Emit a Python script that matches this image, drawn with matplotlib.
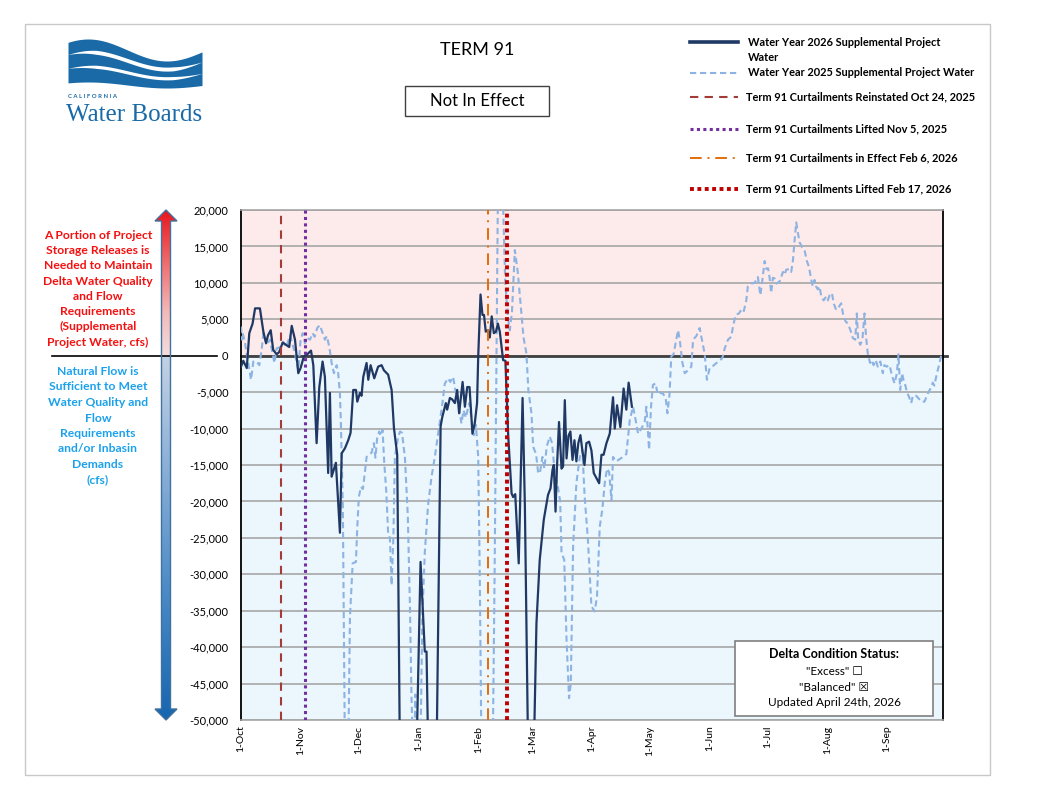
import numpy as np
import matplotlib.pyplot as plt
from matplotlib.colors import LinearSegmentedColormap
from matplotlib.patches import Polygon, Rectangle

plt.rcParams['font.family'] = ['Lato', 'DejaVu Sans']

# x is days since 1-Oct of the water year
month_days = [0, 31, 61, 92, 123, 151, 182, 212, 243, 273, 304, 335]
month_labels = ['1-Oct', '1-Nov', '1-Dec', '1-Jan', '1-Feb', '1-Mar',
                '1-Apr', '1-May', '1-Jun', '1-Jul', '1-Aug', '1-Sep']
y_ticks = list(range(-50000, 20001, 5000))

# Water Year 2026 supplemental project water (cfs), values below -50,000 run off the chart
wy2026_day = [0, 1.2, 3, 4.3, 6, 7.3, 9.8, 11.6, 13, 14, 15.4, 16.7, 18.5, 19.8, 21.6,
              23.3, 25, 26.3, 28, 29.7, 30.9, 32.6, 34.4, 36.3, 37.5, 39.2, 40.6, 42.3,
              43.5, 45.2, 46.1, 47, 49.2, 51.3, 52.2, 53.9, 55.6, 56.8, 58.2, 59.6, 60.3,
              61.7, 62.5, 63.4, 65.1, 66, 67.2, 69.1, 71.1, 72.9, 74.1, 76.3, 78.1, 79.3,
              81, 82.4, 91, 93.1, 95.3, 96.2, 97.1, 101.4, 103.5, 104.3, 106.2, 106.9,
              108.3, 109.5, 110.9, 112.1, 113.1, 114.9, 116.1, 117.3, 118.5, 120, 121.2,
              122.4, 123, 124.2, 125.2, 126, 126.9, 128, 129, 130, 131.1, 132.2, 133.2,
              134.2, 135.1, 135.9, 137.1, 138.5, 140.3, 141.1, 142.2, 144, 146, 147.2,
              148.9, 151.8, 153.2, 154.9, 157, 159.2, 160.5, 161.5, 162.2, 163.1, 163.8,
              164.9, 166.2, 167, 167.9, 168.8, 169.8, 170.8, 171.9, 172.9, 173.9, 174.9,
              176, 177, 178.1, 179.1, 180.5, 181.7, 182.9, 184.3, 185.7, 186.9, 188,
              189.5, 191.2, 192.9, 193.8, 195, 196.7, 198.4, 199.8, 201, 202.7]
wy2026_cfs = [-1500, -700, -1700, 3100, 4400, 6500, 6500, 3300, 1700, 2800, 3500, 800,
              200, 500, 1800, 1500, 1200, 4100, 2200, -2400, -1700, -100, 200, 700, -1300,
              -12000, -4300, -800, -2900, -16100, -5100, -16600, -14700, -24300, -13400,
              -12700, -11600, -10600, -4700, -4700, -6300, -5100, -5500, -2900, -1000,
              -3300, -1300, -3100, -1500, -1300, -2000, -2600, -4700, -9900, -13600,
              -55000, -55000, -28300, -40600, -40600, -55000, -55000, -9700, -8500, -6500,
              -7400, -5800, -6000, -6500, -4700, -7900, -3600, -7000, -4300, -4300, -10700,
              -9300, -6500, -100, 8400, 5600, 5600, 3300, 3500, 2500, 5400, 3100, 3300,
              4400, 3300, 1200, -600, -700, -10700, -18900, -19400, -19000, -28500, -5800,
              -20700, -55000, -55000, -36700, -28000, -22500, -19100, -18200, -15700,
              -15000, -21400, -15500, -9100, -15500, -15200, -6100, -14100, -11000, -10400,
              -14300, -11600, -14500, -12000, -10900, -13000, -15000, -12000, -11800,
              -13000, -16100, -16800, -17500, -13600, -13600, -12000, -10700, -5700,
              -10000, -6800, -9800, -4500, -7400, -3700, -7000]

# Water Year 2025 supplemental project water (cfs)
wy2025_day = [0, 0.5, 0.9, 2.1, 3.8, 5.2, 6.4, 8.1, 9.5, 10.7, 11.6, 13.3, 15, 16.4, 17.3,
              18.5, 20.2, 21.9, 23.5, 25.4, 27.1, 28.3, 29.7, 30.9, 32, 33.2, 34.4, 35.8,
              37.1, 38.2, 39.5, 40.9, 42.3, 43.5, 44.5, 45.8, 47, 48.2, 49.6, 50.4, 51.3,
              51.8, 52.8, 53.4, 53.9, 55.6, 56.5, 57.9, 59.6, 60.3, 61.1, 62.2, 63.2, 64.2,
              65.1, 66.5, 67.7, 68.9, 69.7, 70.6, 71.7, 72.5, 73.4, 74.3, 75.3, 76.3, 77.2,
              78.1, 79, 79.8, 81.5, 82.5, 83.5, 85, 86.5, 87.6, 88.4, 89.3, 89.8, 90.4, 91,
              93, 94, 95.3, 97, 98.8, 100.5, 102.4, 104.2, 105.7, 107.4, 108.5, 110, 111,
              112.1, 113.2, 114.3, 115.4, 116.6, 118.3, 119.5, 120.7, 121.8, 123, 123.8,
              124.7, 130.5, 131.5, 132.5, 133.3, 135.5, 137, 138.5, 139.4, 140.5, 142,
              143.5, 145, 146.5, 148, 149, 150.6, 151.5, 153, 154, 154.9, 156.3, 157.3,
              158.5, 160.1, 161.3, 162.7, 164.3, 165.5, 166.2, 167.6, 168.8, 170.1, 171,
              172.2, 173.9, 175.6, 177, 178.2, 179.9, 181.7, 183.4, 184.6, 186, 187.4,
              188.6, 189.8, 190.9, 192.1, 192.9, 194.6, 196.3, 198, 199.8, 201.6, 203.3,
              204.6, 205.9, 207.6, 209.3, 210.2, 211.6, 212.6, 213.6, 215, 216, 217.1,
              218.8, 220.2, 221.1, 222.2, 223.1, 224.3, 226.6, 227.5, 228.9, 230.1, 231.8,
              233.5, 234.4, 236.1, 237.8, 239, 240.4, 241.6, 243, 244.8, 246.5, 248.2,
              249.6, 250.8, 252.5, 254.2, 255.1, 256.5, 258.2, 259.4, 260.6, 262, 262.8,
              264.6, 266.3, 268, 269.3, 270.3, 271.5, 272.4, 273.3, 274.1, 274.9, 275.8,
              276.7, 277.6, 279.3, 281, 281.8, 282.7, 284.4, 285.3, 286.2, 287, 287.9,
              288.8, 289.6, 290.9, 292.2, 293.4, 294.5, 295.7, 296.5, 297.4, 298.2, 299.1,
              300, 300.9, 302.1, 303.4, 304.3, 305.2, 306.4, 307.3, 308.6, 310, 311.2,
              312.1, 313.5, 314.7, 316, 317.3, 318.5, 319.3, 320, 321.1, 322.2, 323.3,
              324.1, 325, 326.2, 327.2, 328, 329.1, 330.2, 331.5, 332.8, 333.6, 334.8,
              336.3, 337.6, 338.9, 340.1, 340.9, 341.8, 342.8, 343.5, 344.6, 345.2, 346.6,
              347.5, 348.4, 350.1, 351.5, 352.7, 354.4, 356.1, 357.5, 358.7, 359.5, 360.7,
              362.2, 363.5]
wy2025_cfs = [4000, 2200, 3100, 1700, -1000, -3300, -800, -800, -1300, 800, 3100, 1500,
              2200, 300, -1000, 1000, 1200, 1900, 1200, 2800, 1200, -100, -2000, 2200, 3100,
              1700, 2400, 2200, 3100, 2600, 3800, 4200, 3100, 2200, 2700, 1200, -1000, -2400,
              -1300, -2400, -5200, -9300, -20700, -39000, -55000, -55000, -35800, -28500,
              -28300, -23500, -19400, -18000, -18300, -16100, -13900, -13600, -13300,
              -12000, -14000, -11300, -10400, -11000, -10200, -14800, -18500, -24400,
              -25000, -31500, -25000, -13900, -11100, -10400, -10600, -14000, -22000,
              -34400, -46800, -55000, -55000, -46500, -55000, -55000, -36000, -27000,
              -20500, -16600, -13900, -10400, -7000, -3800, -3100, -3600, -2900, -4500,
              -6100, -7300, -9300, -7500, -8500, -6500, -8500, -10900, -9500, -13900,
              -29900, -55000, -55000, -30000, 0, 25000, 25000, 10000, 5000, 3500, 6000,
              14500, 11500, 7000, 2500, 300, -4700, -7900, -12500, -13500, -15900, -16200,
              -13900, -15500, -12500, -11100, -12000, -16100, -18000, -20000, -27100,
              -28000, -39000, -47000, -45000, -26200, -17500, -14000, -12900, -19400,
              -25300, -34400, -35100, -33000, -23500, -21000, -17500, -15500, -16000,
              -19800, -13900, -14500, -14200, -13900, -13500, -8800, -7000, -8800, -10700,
              -10000, -9100, -7000, -12900, -7000, -4000, -3800, -5300, -5100, -5200, -5800,
              -7900, -5300, -100, 200, 3500, 2200, -1000, -2400, -2000, -1500, 2200, 2700,
              3800, 2200, 300, -3300, -1700, -1400, -1000, -700, -300, 1000, 2200, 2600,
              4000, 5600, 5800, 6300, 6000, 7600, 9500, 9900, 10000, 10800, 8300, 10300,
              13000, 11900, 12000, 10700, 8600, 10700, 10600, 9900, 10200, 11500, 11100,
              11800, 11900, 11500, 13100, 15700, 18300, 16800, 15600, 14900, 14500, 13000,
              12200, 10400, 9500, 10400, 9500, 9100, 9500, 8100, 7600, 8100, 7600, 8300,
              8600, 7200, 6300, 6700, 7200, 5800, 4700, 4400, 3500, 2400, 2200, 5800, 2200,
              1500, 2200, 5800, 2600, 300, -1000, -600, -1300, -600, -1500, -800, -2400,
              -1300, -1500, -1300, -2800, -3800, -2400, 200, -4700, -2400, -3300, -4200,
              -4900, -5800, -6500, -5500, -5500, -5900, -6300, -6300, -5200, -4500, -3700,
              -4100, -2600, -1000, 500]

# Term 91 event lines
event_day = [20.6, 33.2, 128.1, 137.7]
event_labels = ['Term 91 Curtailments Reinstated Oct 24, 2025',
                'Term 91 Curtailments Lifted Nov 5, 2025',
                'Term 91 Curtailments in Effect Feb 6, 2026',
                'Term 91 Curtailments Lifted Feb 17, 2026']
event_colors = ['#a33b37', '#7030a0', '#e46c0a', '#c00000']
event_styles = [(0, (4, 3)), (0, (1, 1.1)), (0, (6, 3, 1, 3)), (0, (1, 0.9))]
event_widths = [1.5, 2.2, 1.4, 2.8]

dark = '#1f3864'
light = '#8db3e2'

W, H = 1055, 796
fig = plt.figure(figsize=(W / 100, H / 100), dpi=100)

ax = fig.add_axes([241 / W, 1 - 720 / H, 702 / W, 510 / H])
ax.axhspan(0, 20000, color='#fdeaea', zorder=0)
ax.axhspan(-50000, 0, color='#ebf6fd', zorder=0)
ax.set_xlim(0, 364)
ax.set_ylim(-50000, 20000)
ax.set_yticks(y_ticks)
ax.set_yticklabels([f'{v:,}' for v in y_ticks], fontsize=8)
ax.set_xticks(month_days)
ax.set_xticklabels(month_labels, rotation=90, fontsize=7.5, va='top')
ax.tick_params(axis='y', length=0, pad=9)
ax.tick_params(axis='x', length=0, pad=4)
ax.grid(axis='y', color='#a6a6a6', lw=1.2, zorder=1)
ax.set_axisbelow(True)
for side in ['top', 'bottom']:
    ax.spines[side].set_color('#a6a6a6')
    ax.spines[side].set_linewidth(1.2)
for side in ['left', 'right']:
    ax.spines[side].set_color('black')
    ax.spines[side].set_linewidth(1.3)
ax.plot([0, 1.006], [0, 0], transform=ax.get_yaxis_transform(), color='#404040',
        lw=2, clip_on=False, zorder=2)

ax.plot(wy2025_day, wy2025_cfs, color=light, lw=1.5, ls=(0, (3, 1.8)), zorder=3)
ax.plot(wy2026_day, wy2026_cfs, color=dark, lw=1.6, zorder=4)
for d, c, s, w in zip(event_day, event_colors, event_styles, event_widths):
    ax.axvline(d, color=c, ls=s, lw=w, zorder=5)

# overlay in pixel coordinates for everything around the plot
ov = fig.add_axes([0, 0, 1, 1])
ov.axis('off')
ov.set_zorder(10)

ov.add_patch(Rectangle((25, 24), 965, 751, fill=False, ec='#c8c8c8', lw=1))

# logo
t = np.linspace(0, 1, 200)
lx = 68 + 134 * t
wave = -np.cos(2 * np.pi * (t - 0.15) * 0.85)
top = 50 + 11 * wave
bot = 85 + 3 * wave
logo_blue = '#1a6aa7'
ov.fill_between(lx, top, bot, color=logo_blue, lw=0)
taper = np.clip(np.sin(np.pi * t) * 1.6, 0, 1)
for frac, wdt in [(0.3, 4.0), (0.64, 3.2)]:
    c = top + frac * (bot - top)
    ov.fill_between(lx, c - wdt / 2 * taper, c + wdt / 2 * taper, color='white', lw=0)
ov.text(68, 97, 'C A L I F O R N I A', fontsize=4.3, fontweight='bold', color=logo_blue,
        va='center', ha='left')
ov.text(66, 121, 'Water Boards', fontsize=18, color=logo_blue, family='Liberation Serif',
        va='baseline', ha='left')

# title
ov.text(477, 50, 'TERM 91', fontsize=13, ha='center', va='center')
ov.add_patch(Rectangle((405, 86), 144, 30, fill=True, fc='white', ec='#404040', lw=1))
ov.text(477, 101, 'Not In Effect', fontsize=12, ha='center', va='center')

# legend
leg_fs = 7.9
leg_y = [42, 73, 97, 129, 158, 189]
ov.plot([690, 738], [leg_y[0]] * 2, color=dark, lw=2.6)
ov.text(748, 36.5, 'Water Year 2026 Supplemental Project\nWater', fontsize=leg_fs,
        fontweight='bold', va='top', ha='left', linespacing=1.5)
ov.plot([690, 738], [leg_y[1]] * 2, color=light, lw=1.5, ls=(0, (3, 1.8)))
ov.text(748, leg_y[1], 'Water Year 2025 Supplemental Project Water', fontsize=leg_fs,
        fontweight='bold', va='center', ha='left')
for i in range(4):
    ov.plot([690, 738], [leg_y[i + 2]] * 2, color=event_colors[i], ls=event_styles[i],
            lw=event_widths[i])
    ov.text(746, leg_y[i + 2], event_labels[i], fontsize=leg_fs, fontweight='bold',
            va='center', ha='left')

# left gradient arrow
cx = 166
arrow = Polygon([(cx, 210), (cx + 11, 221), (cx + 4.5, 221), (cx + 4.5, 709),
                 (cx + 11, 709), (cx, 720), (cx - 11, 709), (cx - 4.5, 709),
                 (cx - 4.5, 221), (cx - 11, 221)], closed=True, fc='none',
                ec='#41719c', lw=1, zorder=3)
ov.add_patch(arrow)
cmap = LinearSegmentedColormap.from_list('arr', [
    (0, '#e8141c'), (0.1, '#ef6a6a'), (0.2, '#f3b9b9'), (0.283, '#f2dcdc'),
    (0.29, '#c3d1e4'), (0.5, '#8cb0d8'), (0.75, '#4a8ac6'), (1, '#1565b0')])
img = ov.imshow(np.linspace(0, 1, 256).reshape(-1, 1), cmap=cmap, aspect='auto',
                extent=(cx - 12, cx + 12, 721, 209), zorder=2)
img.set_clip_path(arrow)
ov.plot([52, 217], [355.5, 355.5], color='black', lw=1.2)

red_txt = ('A Portion of Project\nStorage Releases is\nNeeded to Maintain\n'
           'Delta Water Quality\nand Flow\nRequirements\n(Supplemental\nProject Water, cfs)')
blue_txt = ('Natural Flow is\nSufficient to Meet\nWater Quality and\nFlow\n'
            'Requirements\nand/or Inbasin\nDemands\n(cfs)')
ov.text(98, 230, red_txt, fontsize=8.7, fontweight='bold', color='#f51010',
        ha='center', va='top', linespacing=1.47)
ov.text(98, 366, blue_txt, fontsize=8.7, fontweight='bold', color='#1ba1ec',
        ha='center', va='top', linespacing=1.5)

# status box
ov.add_patch(Rectangle((735, 641), 198, 75, fc='white', ec='#7f7f7f', lw=1.2))
ov.text(834, 654, 'Delta Condition Status:', fontsize=9, fontweight='bold',
        ha='center', va='center')
ov.text(834, 671, '"Excess" \u2610', fontsize=8.5, ha='center', va='center')
ov.text(834, 687, '"Balanced" \u2612', fontsize=8.5, ha='center', va='center')
ov.text(834, 703, 'Updated April 24th, 2026', fontsize=8.5, ha='center', va='center')

ov.set_xlim(0, W)
ov.set_ylim(H, 0)

fig.savefig('out.png', dpi=100)
